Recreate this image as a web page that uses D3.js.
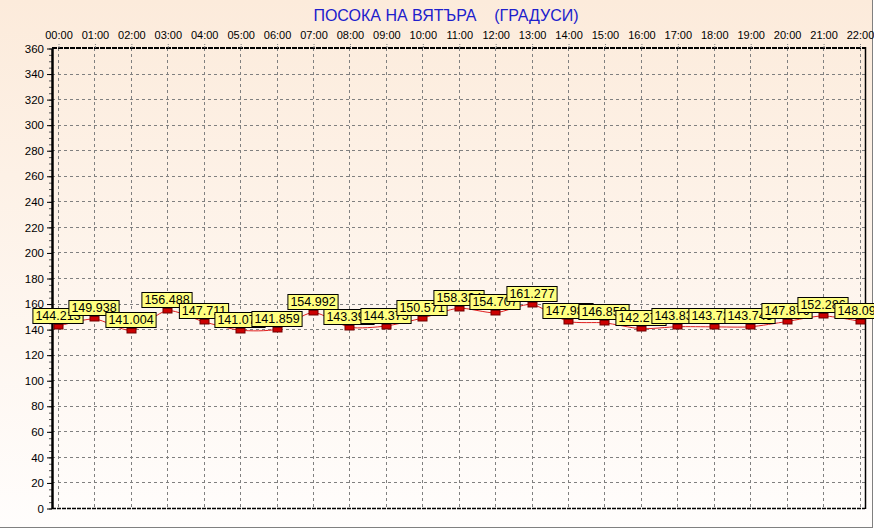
<!DOCTYPE html>
<html>
<head>
<meta charset="utf-8">
<script src="https://cdn.jsdelivr.net/npm/d3@7"></script>
<style>
  html, body { margin: 0; padding: 0; background: #ffffff; }
  svg { display: block; font-family: "Liberation Sans", Arial, sans-serif; }
</style>
</head>
<body>
<svg id="chart" width="874" height="529"></svg>
<script>
const hours = ["00:00","01:00","02:00","03:00","04:00","05:00","06:00","07:00","08:00","09:00","10:00","11:00",
               "12:00","13:00","14:00","15:00","16:00","17:00","18:00","19:00","20:00","21:00","22:00"];
const values = [144.213, 149.938, 141.004, 156.488, 147.711, 141.072, 141.859, 154.992, 143.392, 144.375, 150.571, 158.324,
                154.707, 161.277, 147.986, 146.859, 142.273, 143.832, 143.725, 143.745, 147.876, 152.286, 148.094];
const yTicks = [0,20,40,60,80,100,120,140,160,180,200,220,240,260,280,300,320,340,360];
const title = "ПОСОКА НА ВЯТЪРА    (ГРАДУСИ)";

(function () {
const svg = d3.select("#chart");
const pL = 52, pR = 865, pT = 48, pB = 508;

const defs = svg.append("defs");
const grad = defs.append("linearGradient").attr("id","bg").attr("x1",0).attr("y1",0).attr("x2",0).attr("y2",1);
grad.append("stop").attr("offset","0%").attr("stop-color","#fcebdb");
grad.append("stop").attr("offset","100%").attr("stop-color","#fffdfc");

svg.append("rect").attr("x",0).attr("y",0).attr("width",872).attr("height",527).attr("fill","url(#bg)");
svg.append("line").attr("x1",872.5).attr("x2",872.5).attr("y1",0).attr("y2",528).attr("stroke","#808080").attr("stroke-width",1);
svg.append("line").attr("x1",0).attr("x2",873).attr("y1",527.5).attr("y2",527.5).attr("stroke","#808080").attr("stroke-width",1);

const x = d3.scalePoint().domain(hours).range([58, 859.5]);
const y = d3.scaleLinear().domain([0,360]).range([pB, pT]);

svg.append("g").selectAll("line").data(yTicks.filter(t => t > 0 && t < 360)).join("line")
  .attr("x1", pL).attr("x2", pR)
  .attr("y1", d => Math.round(y(d)) + 0.5).attr("y2", d => Math.round(y(d)) + 0.5)
  .attr("stroke","#808080").attr("stroke-width",1).attr("stroke-dasharray","3,3");

svg.append("g").selectAll("line").data(hours).join("line")
  .attr("x1", d => Math.round(x(d)) + 0.5).attr("x2", d => Math.round(x(d)) + 0.5)
  .attr("y1", pT).attr("y2", pB)
  .attr("stroke","#808080").attr("stroke-width",1).attr("stroke-dasharray","3,3");

svg.append("line").attr("x1", pL).attr("x2", pR).attr("y1", y(360)).attr("y2", y(360))
  .attr("stroke","#000").attr("stroke-width",2).attr("stroke-dasharray","5,1");
svg.append("line").attr("x1", pL).attr("x2", pR).attr("y1", y(0)+0.5).attr("y2", y(0)+0.5)
  .attr("stroke","#000").attr("stroke-width",1.5).attr("stroke-dasharray","4,1");
svg.append("line").attr("x1", pR+0.5).attr("x2", pR+0.5).attr("y1", pT-1).attr("y2", pB+1)
  .attr("stroke","#000").attr("stroke-width",1.5);

const xAxis = svg.append("g").attr("transform", `translate(0.5,${pT})`)
  .call(d3.axisTop(x).tickSize(4).tickPadding(5));
xAxis.select(".domain").remove();
xAxis.selectAll(".tick line").attr("stroke","#808080").attr("stroke-dasharray","2,1");
xAxis.selectAll("text").attr("font-size","11px").attr("fill","#000").attr("font-family","'Liberation Sans', Arial, sans-serif");

const yMinor = svg.append("g").attr("transform", `translate(${pL},0.5)`)
  .call(d3.axisLeft(y).tickValues(d3.range(0,361,5)).tickSize(3).tickFormat(""));
yMinor.select(".domain").remove();
yMinor.selectAll(".tick line").attr("stroke","#555");

const yAxis = svg.append("g").attr("transform", `translate(${pL},0.5)`)
  .call(d3.axisLeft(y).tickValues(yTicks).tickSize(5).tickPadding(3).tickSizeOuter(0));
yAxis.select(".domain").attr("stroke","#000").attr("stroke-width",2.5);
yAxis.selectAll(".tick line").attr("stroke","#000");
yAxis.selectAll("text").attr("font-size","11.5px").attr("fill","#000").attr("font-family","'Liberation Sans', Arial, sans-serif");

svg.append("text").attr("x", 446).attr("y", 20.5).attr("text-anchor","middle")
  .attr("font-size","16px").attr("fill","#2020cc").style("white-space","pre").attr("xml:space","preserve")
  .text(title);

const pts = hours.map((h,i) => [x(h), y(values[i]) + 2.5]);
svg.append("path").attr("d", d3.line().curve(d3.curveCardinal.tension(0.3))(pts))
  .attr("fill","none").attr("stroke","#e02020").attr("stroke-width",1);

svg.append("g").selectAll("rect").data(hours).join("rect")
  .attr("x", d => Math.round(x(d)) - 4)
  .attr("y", (d,i) => Math.round(y(values[i])) + 0.5)
  .attr("width", 9).attr("height", 4.5)
  .attr("fill","#cc0000").attr("stroke","#700000").attr("stroke-width",1);

const lg = svg.append("g");
hours.forEach((h,i) => {
  const g = lg.append("g");
  const t = g.append("text").attr("font-size","12.5px").attr("fill","#000")
    .attr("font-family","'Liberation Sans', Arial, sans-serif")
    .attr("text-anchor","middle").text(values[i].toString());
  const w = t.node().getComputedTextLength() + 5;
  const cx = Math.round(x(h));
  const by = Math.round(y(values[i])) - 0.5;
  g.insert("rect","text").attr("x", cx - w/2).attr("y", by - 15).attr("width", w).attr("height", 15)
    .attr("fill","#ffff80").attr("stroke","#000").attr("stroke-width",1);
  t.attr("x", cx).attr("y", by - 3.5);
});
})();
</script>
</body>
</html>
